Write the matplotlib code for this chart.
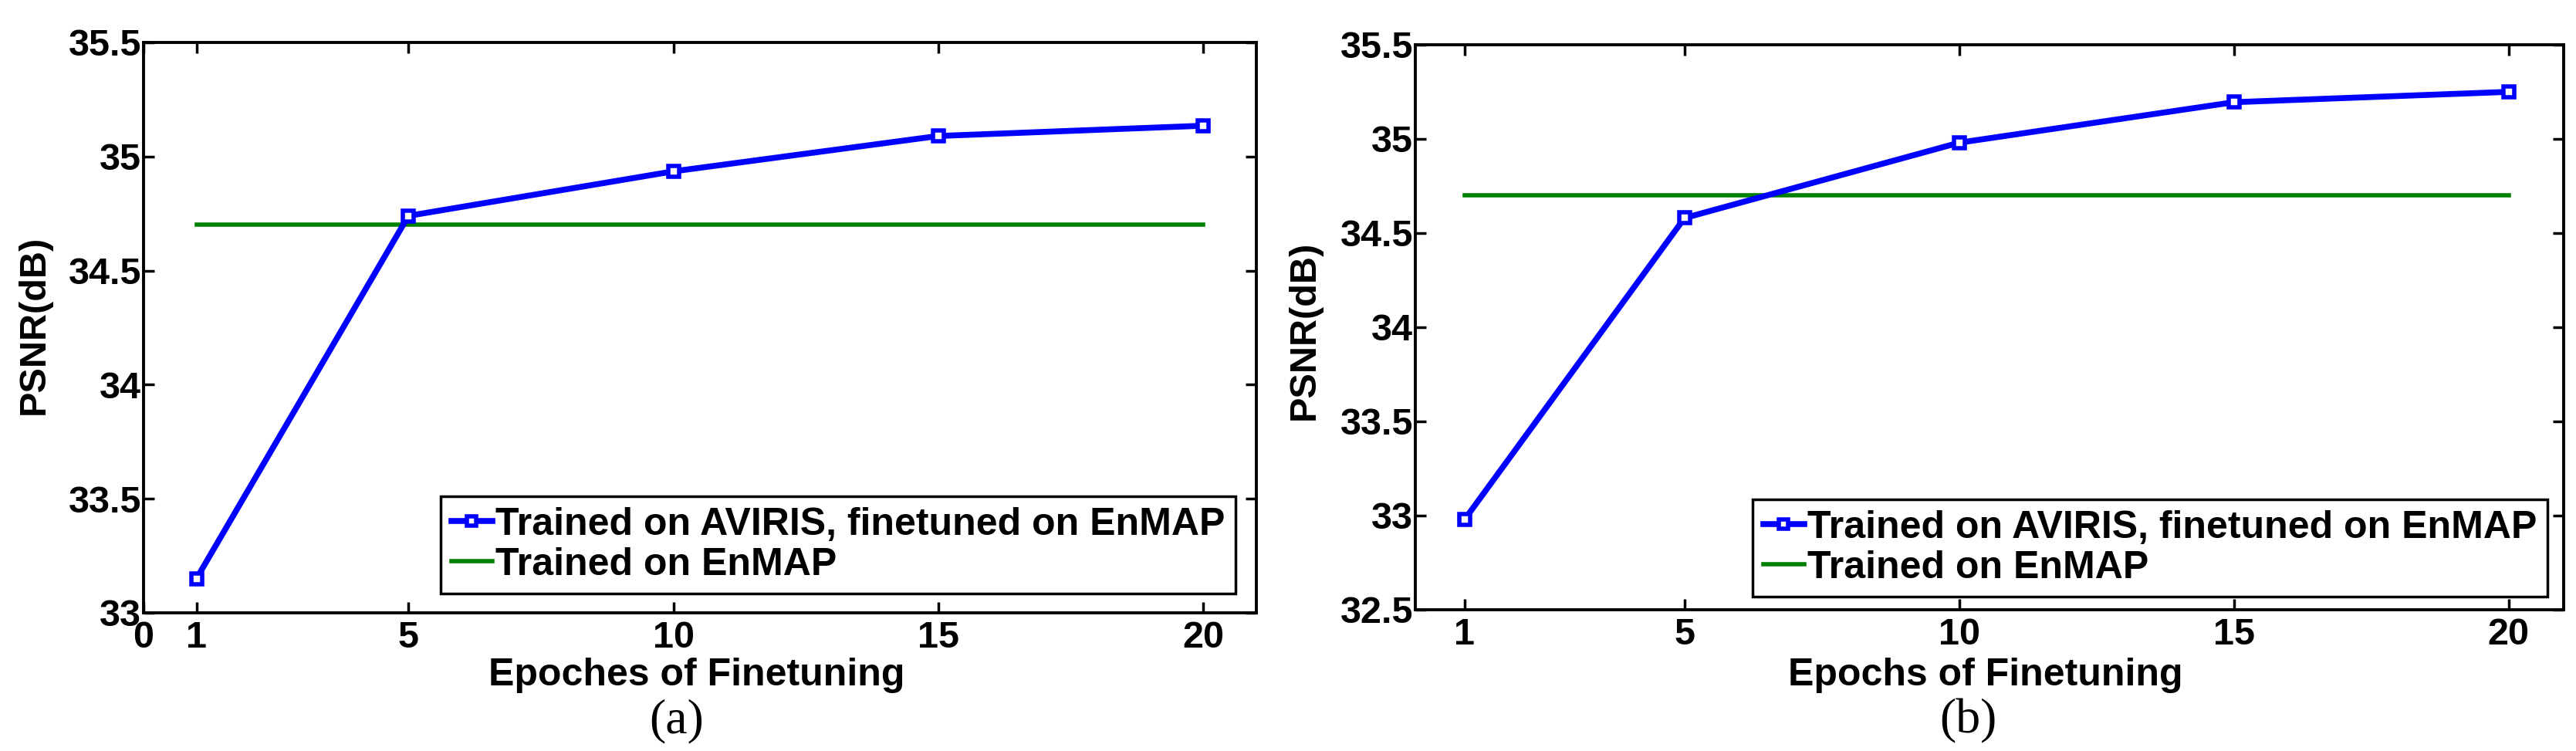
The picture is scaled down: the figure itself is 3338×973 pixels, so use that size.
import numpy as np
import matplotlib.pyplot as plt
from matplotlib.ticker import FixedLocator

plt.rcParams['font.family'] = ['Liberation Sans', 'DejaVu Sans']
plt.rcParams['font.weight'] = 'bold'

# values
epochs = [1, 5, 10, 15, 20]
psnr_a = [33.15, 34.74, 34.935, 35.09, 35.135]
psnr_b = [32.98, 34.58, 34.98, 35.195, 35.25]
base_a = 34.70
base_b = 34.70

xticks_a = [0, 1, 5, 10, 15, 20]
xticks_b = [1, 5, 10, 15, 20]
yticks_a = [33, 33.5, 34, 34.5, 35, 35.5]
yticks_b = [32.5, 33, 33.5, 34, 34.5, 35, 35.5]

lbl_ft = 'Trained on AVIRIS, finetuned on EnMAP'
lbl_base = 'Trained on EnMAP'

blue = (0, 0, 1)
green = (0, 0.5, 0)

fig = plt.figure(figsize=(33.38, 9.73), dpi=100)
ax_a = fig.add_axes([0.0557, 0.1840, 0.4320, 0.7595])
ax_b = fig.add_axes([0.5494, 0.1881, 0.4458, 0.7523])


def draw(ax, y, base, xticks, yticks, xlim, ylim, xlabel, xl_pos, yl_pos, leg_anchor):
    ax.plot(epochs, y, '-s', color=blue, lw=5.5, ms=10, mew=4,
            mfc='white', mec=blue, label=lbl_ft, zorder=3)
    ax.plot([epochs[0], epochs[-1]], [base, base], '-', color=green,
            lw=4, label=lbl_base, zorder=2)
    ax.set_xlim(*xlim)
    ax.set_ylim(*ylim)
    ax.xaxis.set_major_locator(FixedLocator(xticks))
    ax.set_xticklabels([f'{v:g}' for v in xticks])
    ax.yaxis.set_major_locator(FixedLocator(yticks))
    ax.set_yticklabels([f'{v:g}' for v in yticks])
    ax.tick_params(direction='in', length=10, width=2.5, top=True, right=True,
                   labelsize=35)
    ax.tick_params(axis='x', pad=7)
    ax.tick_params(axis='y', pad=2)
    for s in ax.spines.values():
        s.set_linewidth(2.8)
    ax.set_xlabel(xlabel, fontsize=36, fontweight='bold', va='center')
    ax.xaxis.set_label_coords(*xl_pos)
    ax.set_ylabel('PSNR(dB)', fontsize=35, fontweight='bold', va='center')
    ax.yaxis.set_label_coords(*yl_pos)
    leg = ax.legend(loc='lower right', bbox_to_anchor=leg_anchor,
                    borderaxespad=0, fontsize=36, handlelength=1.05,
                    handletextpad=0.08, labelspacing=0.12, borderpad=0.28,
                    fancybox=False, framealpha=1, edgecolor='black',
                    markerscale=0.8)
    leg.get_frame().set_linewidth(2.5)


draw(ax_a, psnr_a, base_a, xticks_a, yticks_a, (0, 21), (33, 35.5),
     'Epoches of Finetuning', (0.497, -0.11), (-0.0985, 0.505),
     (0.9813, 0.0338))
draw(ax_b, psnr_b, base_b, xticks_b, yticks_b, (0.1, 21), (32.5, 35.5),
     'Epochs of Finetuning', (0.4966, -0.116), (-0.0968, 0.4945),
     (0.9859, 0.0232))

fig.text(0.2627, 0.040, '(a)', family=['Liberation Serif', 'DejaVu Serif'],
         fontweight='normal', fontsize=46, ha='center', va='center')
fig.text(0.764, 0.040, '(b)', family=['Liberation Serif', 'DejaVu Serif'],
         fontweight='normal', fontsize=46, ha='center', va='center')

fig.savefig('out.png', dpi=100)
